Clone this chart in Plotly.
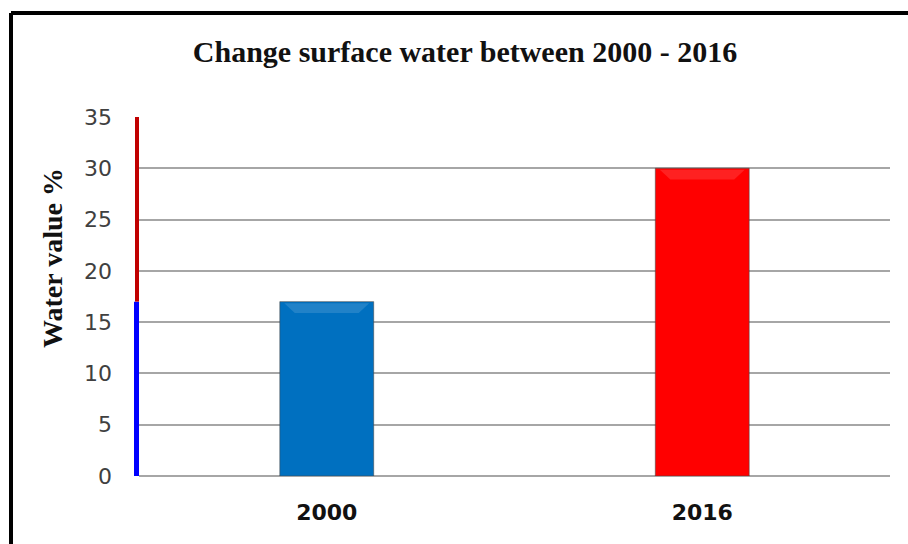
import plotly.graph_objects as go

# Surface water share by year
years = ["2000", "2016"]
water_pct = [17, 30]
bar_colors = ["#0070C0", "#FF0000"]
y_ticks = [0, 5, 10, 15, 20, 25, 30, 35]
y_max = 35
bar_width = 0.25

# plot-area geometry (pixels) used to place the frame and side label
W, H = 908, 544
L, R, T, B = 139, 18, 117, 68
pw, ph = W - L - R, H - T - B


def px_x(x):
    return (x - L) / pw


def px_y(y):
    return (H - B - y) / ph


fig = go.Figure()
fig.add_trace(go.Bar(
    x=years,
    y=water_pct,
    width=bar_width,
    marker=dict(color=bar_colors, line=dict(color="rgba(70,70,70,0.55)", width=1)),
    hoverinfo="x+y",
))

shapes = [
    # outer frame: only top and left edges show
    dict(type="line", xref="paper", yref="paper", x0=px_x(11), x1=px_x(912),
         y0=px_y(13), y1=px_y(13), line=dict(color="black", width=4)),
    dict(type="line", xref="paper", yref="paper", x0=px_x(11), x1=px_x(11),
         y0=px_y(13), y1=px_y(560), line=dict(color="black", width=4)),
    # coloured value axis: blue up to the 2000 level, red above it
    dict(type="line", xref="paper", yref="y", x0=px_x(136.5), x1=px_x(136.5),
         y0=0, y1=water_pct[0], line=dict(color="#0000FF", width=5)),
    dict(type="line", xref="paper", yref="y", x0=px_x(137), x1=px_x(137),
         y0=water_pct[0], y1=y_max, line=dict(color="#C00000", width=4)),
]

# soft bevel highlight along the top of each bar
hw = bar_width / 2
for i, v in enumerate(water_pct):
    a, b = i - hw + 0.012, i + hw - 0.012
    ia, ib = i - hw + 0.04, i + hw - 0.04
    top, low = v - 0.15, v - 1.1
    shapes.append(dict(
        type="path", xref="x", yref="y",
        path=f"M {a},{top} L {b},{top} L {ib},{low} L {ia},{low} Z",
        fillcolor="rgba(255,255,255,0.13)", line=dict(width=0),
    ))

fig.update_layout(
    width=W, height=H,
    margin=dict(l=L, r=R, t=T, b=B, pad=0),
    paper_bgcolor="white",
    plot_bgcolor="white",
    showlegend=False,
    bargap=0.75,
    shapes=shapes,
    title=dict(
        text="<b>Change surface water between 2000 - 2016</b>",
        font=dict(family="Liberation Serif", size=30, color="#111111"),
        x=px_x(465), xref="paper", xanchor="center",
        y=1 - 51 / H, yref="container", yanchor="middle",
    ),
    annotations=[dict(
        text="<b>Water value %</b>", textangle=-90,
        xref="paper", yref="paper", x=px_x(52), y=px_y(258),
        xanchor="center", yanchor="middle", showarrow=False,
        font=dict(family="Liberation Serif", size=28, color="#111111"),
    )],
    xaxis=dict(
        type="category",
        showgrid=False,
        showline=False,
        ticks="",
        tickfont=dict(family="DejaVu Sans", size=22, color="#111111"),
        tickprefix="<b>", ticksuffix="</b>",
        ticklabelstandoff=21,
    ),
    yaxis=dict(
        range=[0, y_max],
        tickvals=y_ticks,
        showgrid=True,
        gridcolor="#A6A6A6",
        gridwidth=1.5,
        zeroline=True,
        zerolinecolor="#A6A6A6",
        zerolinewidth=1.5,
        showline=False,
        ticks="",
        tickfont=dict(family="DejaVu Sans", size=22, color="#404040"),
        ticklabelstandoff=26,
    ),
)

fig.write_html("out.html")
